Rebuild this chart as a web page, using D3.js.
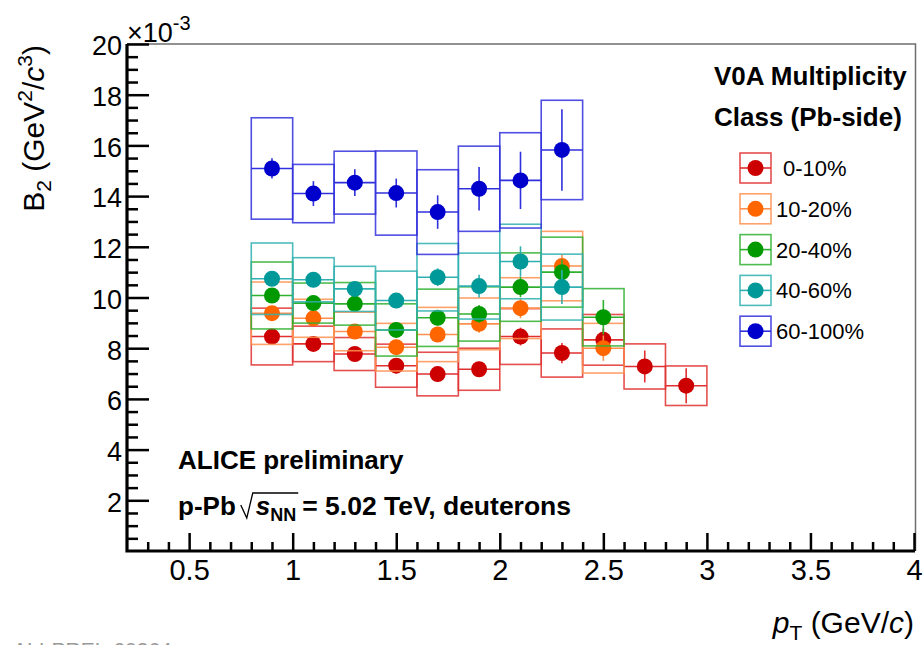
<!DOCTYPE html>
<html>
<head>
<meta charset="utf-8">
<script src="https://cdn.jsdelivr.net/npm/d3@7"></script>
<style>
  body { margin: 0; background: #fff; }
  svg { display: block; }
  text { font-family: "Liberation Sans", Arial, Helvetica, sans-serif; }
</style>
</head>
<body>
<svg id="chart" width="923" height="645"></svg>
<script>
// Deuteron coalescence parameter B2 (in units of 1e-3 GeV^2/c^3) vs pT,
// p-Pb at 5.02 TeV, per V0A multiplicity class.
const ptCenters = [0.9, 1.1, 1.3, 1.5, 1.7, 1.9, 2.1, 2.3, 2.5, 2.7, 2.9];
const binHalfWidth = 0.1;

const classLabels = ["0-10%", "10-20%", "20-40%", "40-60%", "60-100%"];
const markerColors = ["#cc0000", "#ff6600", "#009900", "#009999", "#0000cc"];
const boxColors = ["#e03030", "#ff9050", "#30b030", "#30b0b0", "#3030dd"];

const b2_0_10      = [8.46, 8.17, 7.77, 7.31, 6.98, 7.17, 8.46, 7.81, 8.33, 7.28, 6.52];
const sys_0_10     = [1.12, 0.70, 0.65, 0.85, 0.86, 0.83, 1.10, 0.95, 1.00, 0.89, 0.78];
const stat_0_10    = [0.25, 0.25, 0.25, 0.30, 0.30, 0.30, 0.35, 0.40, 0.45, 0.63, 0.69];

const b2_10_20     = [9.38, 9.18, 8.66, 8.04, 8.54, 8.96, 9.58, 11.24, 8.00];
const sys_10_20    = [1.23, 0.75, 0.76, 0.94, 1.07, 1.02, 1.20, 1.37, 0.98];
const stat_10_20   = [0.25, 0.25, 0.25, 0.30, 0.30, 0.35, 0.40, 0.45, 0.50];

const b2_20_40     = [10.08, 9.78, 9.75, 8.72, 9.20, 9.35, 10.41, 11.00, 9.22];
const sys_20_40    = [1.32, 0.79, 0.84, 1.03, 1.13, 1.07, 1.35, 1.38, 1.13];
const stat_20_40   = [0.25, 0.25, 0.25, 0.30, 0.30, 0.35, 0.40, 0.50, 0.68];

const b2_40_60     = [10.74, 10.70, 10.34, 9.88, 10.80, 10.45, 11.42, 10.41];
const sys_40_60    = [1.41, 0.87, 0.89, 1.16, 1.33, 1.30, 1.47, 1.30];
const stat_40_60   = [0.25, 0.25, 0.30, 0.30, 0.35, 0.45, 0.60, 0.67];

const b2_60_100    = [15.09, 14.10, 14.53, 14.12, 13.37, 14.29, 14.62, 15.82];
const sys_60_100   = [2.00, 1.15, 1.24, 1.66, 1.67, 1.68, 1.88, 1.96];
const stat_60_100  = [0.40, 0.49, 0.53, 0.57, 0.66, 0.86, 1.13, 1.61];

const yMajorTicks = [2, 4, 6, 8, 10, 12, 14, 16, 18, 20];
const xMajorTicks = [0.5, 1, 1.5, 2, 2.5, 3, 3.5, 4];

const seriesValues = [b2_0_10, b2_10_20, b2_20_40, b2_40_60, b2_60_100];
const seriesSys = [sys_0_10, sys_10_20, sys_20_40, sys_40_60, sys_60_100];
const seriesStat = [stat_0_10, stat_10_20, stat_20_40, stat_40_60, stat_60_100];

const svg = d3.select("#chart");
const x = d3.scaleLinear().domain([0.2, 4]).range([127, 914]);
const y = d3.scaleLinear().domain([0, 20]).range([551, 44]);

// frame (top and right)
svg.append("path")
  .attr("d", `M${x(0.2)},${y(20)} H${x(4) + 1.5} V${y(0)}`)
  .attr("fill", "none").attr("stroke", "#6e6e6e").attr("stroke-width", 1.5);

// minor ticks
const yMinor = d3.range(0.5, 20, 0.5).filter(v => !yMajorTicks.includes(v));
const xMinor = d3.range(3, 40).map(v => v / 10).filter(v => !xMajorTicks.some(t => Math.abs(t - v) < 1e-6));

svg.append("g").attr("transform", `translate(${x(0.2)},0)`)
  .call(d3.axisLeft(y).tickValues(yMinor).tickSize(-11).tickSizeOuter(0).tickFormat(""))
  .call(g => g.select(".domain").remove())
  .call(g => g.selectAll("line").attr("stroke-width", 2.5));
svg.append("g").attr("transform", `translate(0,${y(0)})`)
  .call(d3.axisBottom(x).tickValues(xMinor).tickSize(-9).tickSizeOuter(0).tickFormat(""))
  .call(g => g.select(".domain").remove())
  .call(g => g.selectAll("line").attr("stroke-width", 2.5));

// major ticks + labels
const yAxis = svg.append("g").attr("transform", `translate(${x(0.2)},0)`)
  .call(d3.axisLeft(y).tickValues(yMajorTicks).tickSize(-22).tickSizeOuter(0).tickPadding(5).tickFormat(d => String(d)));
yAxis.attr("font-size", 27).attr("font-family", null);
yAxis.selectAll("line").attr("stroke-width", 2.5);
yAxis.selectAll("text").attr("dy", "0.4em").attr("fill", "#000");
yAxis.select(".domain").remove();

const xAxis = svg.append("g").attr("transform", `translate(0,${y(0)})`)
  .call(d3.axisBottom(x).tickValues(xMajorTicks).tickSize(-18).tickSizeOuter(0).tickPadding(8).tickFormat(d => String(d)));
xAxis.attr("font-size", 29).attr("font-family", null);
xAxis.selectAll("line").attr("stroke-width", 2.5);
xAxis.selectAll("text").attr("fill", "#000");
xAxis.select(".domain").remove();

// axis lines
svg.append("path")
  .attr("d", `M${x(0.2)},${y(20)} V${y(0)} H${x(4) + 1}`)
  .attr("fill", "none").attr("stroke", "#000").attr("stroke-width", 3.2)
  .attr("stroke-linejoin", "miter");

// x10^-3 multiplier
const mult = svg.append("text").attr("x", 127).attr("y", 42).attr("font-size", 27);
mult.append("tspan").text("\u00d710");
mult.append("tspan").attr("font-size", 20).attr("dy", -12).text("-3");

// y-axis title
const yTitle = svg.append("text")
  .attr("transform", "translate(44,45) rotate(-90)")
  .attr("text-anchor", "end").attr("font-size", 30);
yTitle.append("tspan").text("B");
yTitle.append("tspan").attr("font-size", 21).attr("dy", 7).text("2");
yTitle.append("tspan").attr("dy", -7).text(" (GeV");
yTitle.append("tspan").attr("font-size", 21).attr("dy", -12).text("2");
yTitle.append("tspan").attr("dy", 12).text("/");
yTitle.append("tspan").attr("font-style", "italic").text("c");
yTitle.append("tspan").attr("font-size", 21).attr("dy", -12).text("3");
yTitle.append("tspan").attr("dy", 12).text(")");

// x-axis title
const xTitle = svg.append("text")
  .attr("x", 914).attr("y", 633).attr("text-anchor", "end").attr("font-size", 30);
xTitle.append("tspan").attr("font-style", "italic").text("p");
xTitle.append("tspan").attr("font-size", 21).attr("dy", 7).text("T");
xTitle.append("tspan").attr("dy", -7).text(" (GeV/");
xTitle.append("tspan").attr("font-style", "italic").text("c");
xTitle.append("tspan").text(")");

// data: systematic boxes, stat bars, markers, per class
seriesValues.forEach((vals, s) => {
  const g = svg.append("g");
  const pts = vals.map((v, i) => ({ pt: ptCenters[i], v, sys: seriesSys[s][i], stat: seriesStat[s][i] }));
  g.selectAll("rect").data(pts).join("rect")
    .attr("x", d => x(d.pt - binHalfWidth))
    .attr("width", d => x(d.pt + binHalfWidth) - x(d.pt - binHalfWidth))
    .attr("y", d => y(d.v + d.sys))
    .attr("height", d => y(d.v - d.sys) - y(d.v + d.sys))
    .attr("fill", "none").attr("stroke", boxColors[s]).attr("stroke-width", 1.6).attr("stroke-opacity", 0.85);
  g.selectAll("line.h").data(pts).join("line").attr("class", "h")
    .attr("x1", d => x(d.pt - binHalfWidth)).attr("x2", d => x(d.pt + binHalfWidth))
    .attr("y1", d => y(d.v)).attr("y2", d => y(d.v))
    .attr("stroke", boxColors[s]).attr("stroke-width", 1.6);
  g.selectAll("line.v").data(pts).join("line").attr("class", "v")
    .attr("x1", d => x(d.pt)).attr("x2", d => x(d.pt))
    .attr("y1", d => y(d.v - d.stat)).attr("y2", d => y(d.v + d.stat))
    .attr("stroke", boxColors[s]).attr("stroke-width", 1.6);
  g.selectAll("circle").data(pts).join("circle")
    .attr("cx", d => x(d.pt)).attr("cy", d => y(d.v)).attr("r", 8)
    .attr("fill", markerColors[s]);
});

// legend
svg.append("text").attr("x", 714).attr("y", 85).attr("font-size", 26).attr("font-weight", "bold").text("V0A Multiplicity");
svg.append("text").attr("x", 714).attr("y", 126).attr("font-size", 26).attr("font-weight", "bold").text("Class (Pb-side)");
classLabels.forEach((lab, s) => {
  const cy = 168 + s * 40.8;
  const g = svg.append("g");
  g.append("rect").attr("x", 740).attr("y", cy - 15).attr("width", 31).attr("height", 30)
    .attr("fill", "none").attr("stroke", boxColors[s]).attr("stroke-width", 1.6).attr("stroke-opacity", 0.85);
  g.append("line").attr("x1", 740).attr("x2", 771).attr("y1", cy).attr("y2", cy)
    .attr("stroke", boxColors[s]).attr("stroke-width", 1.6);
  g.append("circle").attr("cx", 755.5).attr("cy", cy).attr("r", 8).attr("fill", markerColors[s]);
  g.append("text").attr("x", s === 0 ? 783 : 776).attr("y", cy + 8).attr("font-size", 22).text(lab);
});

// collaboration / system labels
svg.append("text").attr("x", 178).attr("y", 469).attr("font-size", 26).attr("font-weight", "bold").text("ALICE preliminary");
const sys1 = svg.append("text").attr("x", 178).attr("y", 515).attr("font-size", 26).attr("font-weight", "bold").text("p-Pb");
const rootStart = 178 + sys1.node().getComputedTextLength() + 5;
const sPart = svg.append("text").attr("y", 515).attr("font-size", 26).attr("font-weight", "bold");
sPart.append("tspan").attr("font-style", "italic").text("s");
sPart.append("tspan").attr("font-size", 18).attr("dy", 6).text("NN");
sPart.attr("x", rootStart + 15);
const sWidth = sPart.node().getComputedTextLength();
// radical sign over sNN
svg.append("path")
  .attr("d", `M${rootStart},${505} L${rootStart + 6},${518} L${rootStart + 12},${493} H${rootStart + 15 + sWidth + 2}`)
  .attr("fill", "none").attr("stroke", "#000").attr("stroke-width", 1.3);
svg.append("text").attr("x", rootStart + 15 + sWidth + 6).attr("y", 515)
  .attr("font-size", 26.5).attr("font-weight", "bold").text("= 5.02 TeV, deuterons");

// preliminary figure id
svg.append("text").attr("x", 13).attr("y", 657).attr("font-size", 21)
  .attr("font-family", "'DejaVu Sans Mono', monospace").attr("fill", "#999").text("ALI-PREL-60364");
</script>
</body>
</html>
